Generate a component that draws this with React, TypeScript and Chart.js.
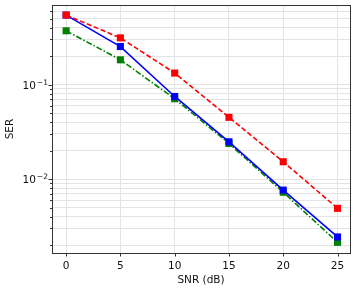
import { useEffect, useRef } from "react";
import { Chart, registerables } from "chart.js";

Chart.register(...registerables);

const snr = [0, 5, 10, 15, 20, 25];
const serRed = [0.544, 0.312, 0.1324, 0.045, 0.01524, 0.0049];
const serBlue = [0.543, 0.2525, 0.0748, 0.0248, 0.00764, 0.00244];
const serGreen = [0.3707, 0.1828, 0.0708, 0.0238, 0.00725, 0.00214];
const xTicks = [0, 5, 10, 15, 20, 25];
const yMajorTicks = [0.01, 0.1];
const yMajorBase = ["10", "10"];
const yMajorExp = ["−2", "−1"];
const yMinorMultipliers = [2, 3, 4, 5, 6, 7, 8, 9];
const yDecades = [0.001, 0.01, 0.1];

const Y_MIN = 0.00165;
const Y_MAX = 0.695;
const X_MIN = -1.3;
const X_MAX = 26.15;
const FONT = "'DejaVu Sans', sans-serif";
const FS = 10.5;
const TEXT = "#111111";

function majorIndex(v: number) {
  return yMajorTicks.findIndex((m) => Math.abs(v / m - 1) < 1e-6);
}

const framePlugin = {
  id: "frame",
  afterDraw(chart: any) {
    const { ctx, chartArea } = chart;
    const { left, right, top, bottom } = chartArea;
    ctx.save();
    ctx.strokeStyle = "#333333";
    ctx.lineWidth = 1;
    ctx.beginPath();
    const xs = chart.scales.x;
    for (const t of xs.ticks) {
      const px = Math.round(xs.getPixelForValue(t.value)) + 0.5;
      ctx.moveTo(px, bottom);
      ctx.lineTo(px, bottom + 3.5);
    }
    const ys = chart.scales.y;
    for (const t of ys.ticks) {
      const py = Math.round(ys.getPixelForValue(t.value)) + 0.5;
      const len = majorIndex(t.value) >= 0 ? 3.5 : 2;
      ctx.moveTo(left, py);
      ctx.lineTo(left - len, py);
    }
    ctx.stroke();
    ctx.strokeRect(
      Math.round(left) + 0.5,
      Math.round(top) + 0.5,
      Math.round(right - left),
      Math.round(bottom - top)
    );

    // y major labels: base with superscript exponent
    ctx.fillStyle = TEXT;
    ctx.textBaseline = "middle";
    ctx.textAlign = "left";
    const rightEdge = left - 4;
    yMajorTicks.forEach((v, i) => {
      const py = ys.getPixelForValue(v);
      const baseFont = `${FS}px ${FONT}`;
      const supFont = `${FS * 0.72}px ${FONT}`;
      ctx.font = baseFont;
      const wb = ctx.measureText(yMajorBase[i]).width;
      ctx.font = supFont;
      const ws = ctx.measureText(yMajorExp[i]).width;
      const gap = 1;
      const x0 = rightEdge - ws - gap - wb;
      ctx.font = baseFont;
      ctx.fillText(yMajorBase[i], x0, py + 1.5);
      ctx.font = supFont;
      ctx.fillText(yMajorExp[i], x0 + wb + gap, py - 1.8);
    });
    ctx.restore();
  },
};

export default function App() {
  const ref = useRef<HTMLCanvasElement | null>(null);

  useEffect(() => {
    if (!ref.current) return;
    const mk = (arr: number[]) => snr.map((x, i) => ({ x, y: arr[i] }));
    const common = {
      borderWidth: 1.6,
      pointStyle: "rect",
      pointRadius: 5,
      pointBorderWidth: 0,
      tension: 0,
    };
    const chart = new Chart(ref.current, {
      type: "line",
      data: {
        datasets: [
          {
            ...common,
            label: "red",
            data: mk(serRed),
            borderColor: "#ff0000",
            backgroundColor: "#ff0000",
            borderDash: [5, 2.5],
          },
          {
            ...common,
            label: "blue",
            data: mk(serBlue),
            borderColor: "#0000ff",
            backgroundColor: "#0000ff",
          },
          {
            ...common,
            label: "green",
            data: mk(serGreen),
            borderColor: "#008000",
            backgroundColor: "#008000",
            borderDash: [6, 2, 1.5, 2],
          },
        ] as any,
      },
      options: {
        animation: false,
        responsive: true,
        maintainAspectRatio: false,
        layout: { padding: { top: 4, right: 4, left: 0, bottom: 0 } },
        plugins: { legend: { display: false }, tooltip: { enabled: false } },
        scales: {
          x: {
            type: "linear",
            min: X_MIN,
            max: X_MAX,
            afterBuildTicks: (s: any) => {
              s.ticks = xTicks.map((v) => ({ value: v }));
            },
            afterFit: (s: any) => {
              s.height = 35;
              s.paddingLeft = 0;
              s.paddingRight = 0;
            },
            grid: { color: "#e4e4e4", lineWidth: 1, drawTicks: false },
            border: { display: false },
            ticks: {
              padding: 7,
              color: TEXT,
              font: { family: FONT, size: FS },
              autoSkip: false,
              maxRotation: 0,
            },
            title: {
              display: true,
              text: "SNR (dB)",
              color: TEXT,
              font: { family: FONT, size: FS },
              padding: { top: 0, bottom: 1 },
            },
          },
          y: {
            type: "logarithmic",
            min: Y_MIN,
            max: Y_MAX,
            afterBuildTicks: (s: any) => {
              const t: { value: number }[] = [];
              for (const d of yDecades) {
                for (const m of [1, ...yMinorMultipliers]) {
                  const v = +(d * m).toPrecision(6);
                  if (v >= Y_MIN && v <= Y_MAX) t.push({ value: v });
                }
              }
              s.ticks = t;
            },
            afterFit: (s: any) => {
              s.width = 52;
              s.paddingTop = 0;
              s.paddingBottom = 0;
            },
            grid: { color: "#e4e4e4", lineWidth: 1, drawTicks: false },
            border: { display: false },
            ticks: {
              padding: 6,
              color: TEXT,
              font: { family: FONT, size: FS },
              autoSkip: false,
              callback: () => "",
            },
            title: {
              display: true,
              text: "SER",
              color: TEXT,
              font: { family: FONT, size: FS },
              padding: { top: 4, bottom: 0 },
            },
          },
        },
      },
      plugins: [framePlugin],
    });
    return () => chart.destroy();
  }, []);

  return (
    <div style={{ position: "fixed", left: 0, top: 0, width: 355, height: 288, background: "#fff" }}>
      <canvas ref={ref} />
    </div>
  );
}
